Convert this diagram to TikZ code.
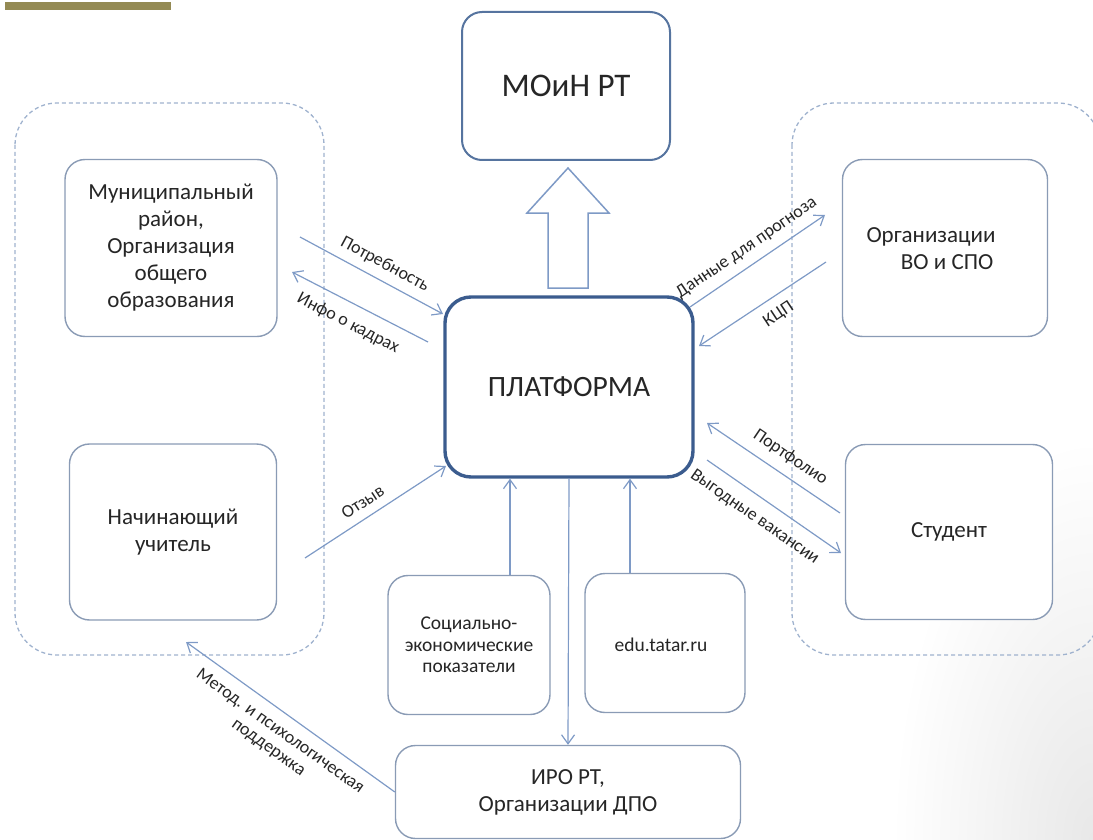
\documentclass[tikz,border=0pt]{standalone}
\usepackage{fontspec}
\setmainfont{Carlito}
\usetikzlibrary{arrows.meta,shadings,fadings}
\definecolor{gold}{HTML}{948A54}
\definecolor{boxb}{HTML}{8A9BB5}
\definecolor{darkb}{HTML}{3B5C8E}
\definecolor{mob}{HTML}{56749F}
\definecolor{arr}{HTML}{7E9AC6}
\definecolor{dashc}{HTML}{9FB2CE}
\definecolor{txt}{HTML}{262626}
\tikzfading[name=cornerfade, inner color=transparent!0, outer color=transparent!100]
\tikzset{
  box/.style={draw=boxb, line width=1.4pt, rounded corners=20pt, fill=white, text=txt, align=center, inner sep=0pt},
  region/.style={draw=dashc, line width=1.3pt, dash pattern=on 4pt off 3pt, rounded corners=42pt},
  conn/.style={draw=arr, line width=1.2pt, -{Straight Barb[length=9pt,width=13pt,line width=1.2pt]}},
  lbl/.style={text=txt, font=\fontsize{18}{20}\selectfont, inner sep=1pt, align=center},
  boxtext/.style={font=\fontsize{23}{27}\selectfont},
  smalltext/.style={font=\fontsize{19.5}{21.5}\selectfont},
}
\begin{document}
\begin{tikzpicture}[x=1pt,y=-1pt]
\useasboundingbox (0,0) rectangle (1093,840);
% faint shading toward the lower right corner
\begin{scope}
\clip (0,0) rectangle (1093,840);
\fill[black!9, path fading=cornerfade, fit fading=true] (893,440) rectangle (1293,1240);
\end{scope}
% gold bar
\fill[gold] (5,2) rectangle (171,10);
% dashed regions
\draw[region] (15,103) rectangle (324,655);
\draw[region] (792,103) rectangle (1100,655);
% nodes
\node[box, draw=mob, line width=2pt, minimum width=208pt, minimum height=148pt, font=\fontsize{33}{38}\selectfont] (moin) at (566,86) {МОиН РТ};
\node[box, draw=darkb, line width=3.4pt, rounded corners=26pt, minimum width=248pt, minimum height=180pt, font=\fontsize{29.5}{34}\selectfont] (plat) at (569,387) {ПЛАТФОРМА};
\node[box, boxtext, minimum width=212pt, minimum height=177pt] (mun) at (171,248) {Муниципальный\\район,\\Организация\\общего\\образования};
\node[box, boxtext, minimum width=207pt, minimum height=176pt] (uch) at (173,532) {Начинающий\\учитель};
\node[box, minimum width=205pt, minimum height=177pt] (org) at (945,248) {};
\node[text=txt, align=center, boxtext] (orgt) at (931,249) {Организации\\\hspace*{1.4em}ВО и СПО};
\node[box, boxtext, minimum width=207pt, minimum height=175pt] (stud) at (949,532) {Студент};
\node[box, smalltext, minimum width=162pt, minimum height=139pt] (soc) at (469,645) {Социально-\\экономические\\показатели};
\node[box, minimum width=160pt, minimum height=139pt] (edu) at (665,643) {};
\node[text=txt, smalltext] (edut) at (661,645) {edu.tatar.ru};
\node[box, boxtext, minimum width=345pt, minimum height=93pt] (iro) at (568,792) {ИРО РТ,\\Организации ДПО};
% big hollow arrow
\draw[draw=arr, line width=1.5pt, fill=white, line join=miter]
  (548,288) -- (548,213) -- (527,213) -- (568,168) -- (609,213) -- (588,213) -- (588,288) -- cycle;
% connector end points
\coordinate (a1s) at (300,237); \coordinate (a1e) at (443,314);
\coordinate (a2s) at (428,342); \coordinate (a2e) at (292,272);
\coordinate (a3s) at (690,307); \coordinate (a3e) at (825,215);
\coordinate (a4s) at (826,262); \coordinate (a4e) at (699,346);
\coordinate (a5s) at (840,513); \coordinate (a5e) at (707,423);
\coordinate (a6s) at (707,460); \coordinate (a6e) at (841,553);
\coordinate (a7s) at (305,558); \coordinate (a7e) at (446,466);
\coordinate (a8e) at (186,642);
% connectors
\draw[conn] (a1s) -- node[lbl, sloped, above=7pt, pos=0.54] {Потребность} (a1e);
\draw[conn] (a2s) -- node[lbl, sloped, below=11pt, pos=0.52] {Инфо о кадрах} (a2e);
\draw[conn] (a3s) -- node[lbl, sloped, above=8pt, pos=0.49] {Данные для прогноза} (a3e);
\draw[conn] (a4s) -- node[lbl, sloped, below=9pt, pos=0.45] {КЦП} (a4e);
\draw[conn] (a5s) -- node[lbl, sloped, above=9pt, pos=0.45] {Портфолио} (a5e);
\draw[conn] (a6s) -- node[lbl, sloped, below=11pt, pos=0.44] {Выгодные вакансии} (a6e);
\draw[conn] (a7s) -- node[lbl, sloped, above=8pt, pos=0.47] {Отзыв} (a7e);
\draw[conn] ([xshift=41pt]soc.north) -- ([xshift=-59pt]plat.south);
\draw[conn] ([xshift=-35pt]edu.north) -- ([xshift=61pt]plat.south);
\draw[conn] (plat.south) -- (iro.north);
\draw[conn] (iro.west) -- node[lbl, sloped, below=9pt, pos=0.5] {Метод. и психологическая\\поддержка} (a8e);
\end{tikzpicture}
\end{document}
